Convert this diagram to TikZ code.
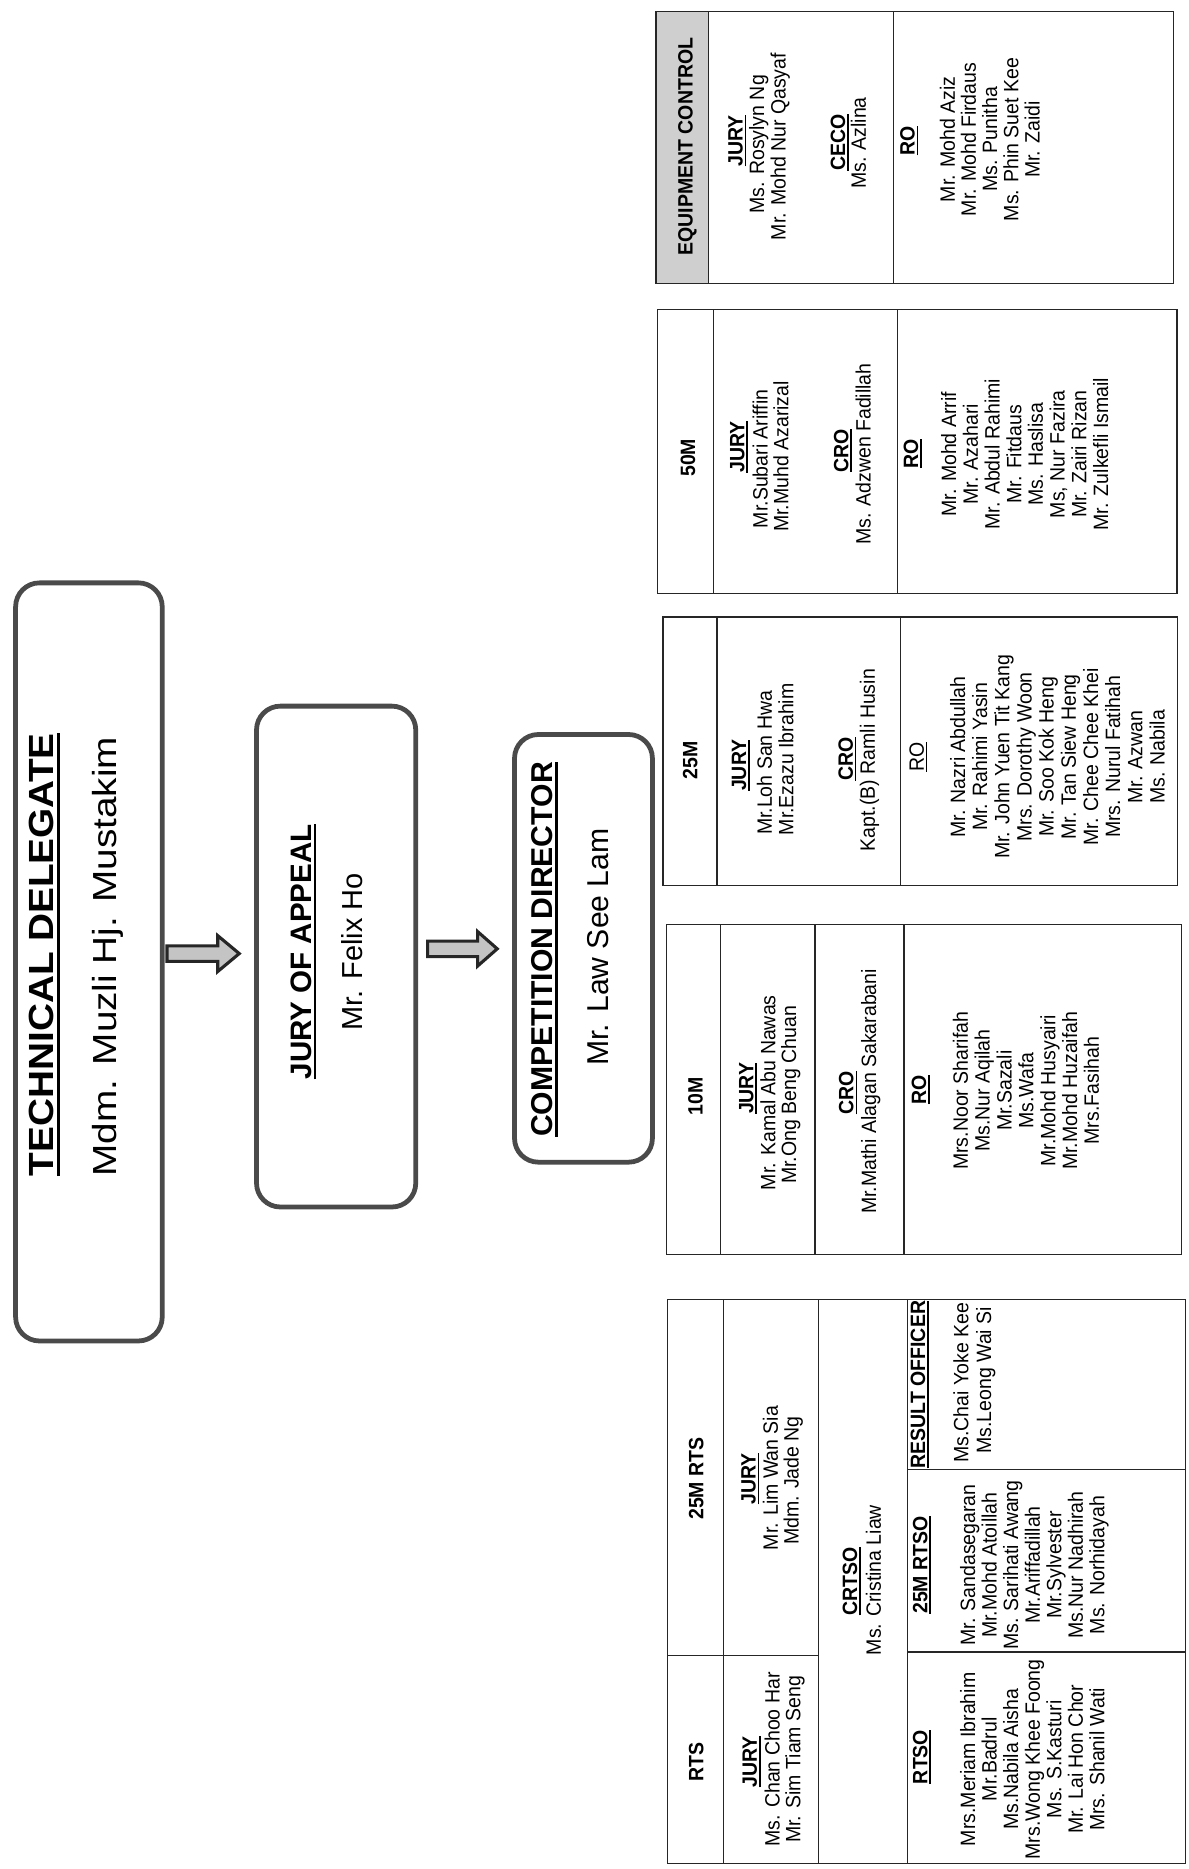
\documentclass[tikz,border=0pt]{standalone}
\usepackage{fontspec}
\usepackage{graphicx}
\setmainfont{Liberation Sans}
\newfontfamily\tblfont[FakeStretch=0.94]{Liberation Sans}
\usetikzlibrary{calc}
\newcommand\nmfont{\tblfont\fontsize{17.4}{19}\selectfont}
\newcommand\ulx[1]{\vtop{\hbox{#1}\kern0.09em\hrule height 0.075em}}
\definecolor{boxline}{HTML}{4A4A4A}
\definecolor{hdrfill}{HTML}{CFCFCF}
\definecolor{arrfill}{HTML}{C4C4C4}
\begin{document}
\begin{tikzpicture}[x=1pt,y=-1pt,
  mainbox/.style={draw=boxline, line width=4pt, rounded corners=20pt, inner sep=0pt},
  blockarr/.style={draw=black!85, line width=2.6pt, fill=arrfill, line join=miter},
  tbl/.style={draw=black!85, line width=1.1pt},
  big/.style={rotate=90, anchor=base, inner sep=0pt},
  nm/.style={rotate=90, anchor=base, inner sep=0pt, font=\nmfont},
  lab/.style={nm, font=\nmfont\bfseries},
  hdr/.style={nm, font=\nmfont\bfseries}]
\fill[white] (0,0) rectangle (997,1568);
\useasboundingbox (0,0) rectangle (997,1568);

% ---------- main boxes ----------
\node[mainbox, minimum width=123pt, minimum height=636pt] (td) at (74.6,807) {};
\node[mainbox, minimum width=133.6pt, minimum height=420.2pt] (joa) at (282,802.5) {};
\node[mainbox, minimum width=115.7pt, minimum height=358.8pt] (cd) at (489.5,795.6) {};

\node[big, font=\fontsize{29.3}{33}\selectfont\bfseries] (tdt) at (45,801) {\scalebox{1.11}[1]{\ulx{TECHNICAL DELEGATE}}};
\node[big, font=\fontsize{28}{32}\selectfont] (tdn) at (98,802.5) {\scalebox{1.16}[1]{Mdm. Muzli Hj. Mustakim}};
\node[big, font=\fontsize{24.8}{28}\selectfont\bfseries] (joat) at (261,798.5) {\ulx{JURY OF APPEAL}};
\node[big, font=\fontsize{24.3}{28}\selectfont] (joan) at (304.5,798.5) {Mr. Felix Ho};
\node[big, font=\fontsize{25.3}{28}\selectfont\bfseries] (cdt) at (463.5,796.6) {\ulx{COMPETITION DIRECTOR}};
\node[big, font=\fontsize{25.3}{28}\selectfont] (cdn) at (510.5,794.5) {Mr. Law See Lam};

% ---------- block arrows ----------
\draw[blockarr] let \p1=(td.east |- 0,800), \p2=(joa.west) in
  (\x1+2,\y1+6.5) -- (\x2-30.5,\y1+6.5) -- (\x2-30.5,\y1+15) -- (\x2-12.5,\y1)
  -- (\x2-30.5,\y1-15) -- (\x2-30.5,\y1-6.5) -- (\x1+2,\y1-6.5) -- cycle;
\draw[blockarr] let \p1=(joa.east |- 0,796), \p2=(cd.west) in
  (\x1+8,\y1+6.5) -- (\x2-29,\y1+6.5) -- (\x2-29,\y1+14.5) -- (\x2-12.5,\y1)
  -- (\x2-29,\y1-14.5) -- (\x2-29,\y1-6.5) -- (\x1+8,\y1-6.5) -- cycle;

% ---------- EQUIPMENT CONTROL ----------
\fill[hdrfill] (550.3,9.6) rectangle (594.3,237.6);
\draw[tbl] (550.3,9.6) rectangle (984.4,237.6);
\draw[tbl] (594.3,9.6) -- (594.3,237.6) (749.8,9.6) -- (749.8,237.6);
\node[hdr] (ech) at (581,123) {EQUIPMENT CONTROL};
\node[lab] (ecj) at (623,118) {\ulx{JURY}};
\node[nm] (ecj1) at (641,121) {Ms. Rosylyn Ng};
\node[nm] (ecj2) at (659,123) {Mr. Mohd Nur Qasyaf};
\node[lab] (ecc) at (709,119.5) {\ulx{CECO}};
\node[nm] (ecc1) at (726.5,120) {Ms. Azlina};
\node[lab] (ecr) at (767.4,118) {\ulx{RO}};
\foreach \t [count=\i from 0] in {Mr. Mohd Aziz, Mr. Mohd Firdaus, Ms. Punitha, Ms. Phin Suet Kee, Mr. Zaidi}
  \node[nm] (ecr\i) at ({801+17.8*\i},117) {\t};

% ---------- 50M ----------
\draw[tbl] (551.8,259.4) rectangle (987.5,498);
\draw[tbl] (598.7,259.4) -- (598.7,498) (752.7,259.4) -- (752.7,498);
\node[hdr] (f0h) at (583.2,384) {50M};
\node[lab] (f0j) at (624.5,375) {\ulx{JURY}};
\node[nm] (f0j1) at (644,385) {Mr.Subari Ariffin};
\node[nm] (f0j2) at (661.5,383) {Mr.Muhd Azarizal};
\node[lab] (f0c) at (711.7,378) {\ulx{CRO}};
\node[nm] (f0c1) at (730.5,381) {Ms. Adzwen Fadillah};
\node[lab] (f0r) at (770.3,380.5) {\ulx{RO}};
\foreach \t [count=\i from 0] in {Mr. Mohd Arrif, Mr. Azahari, Mr. Abdul Rahimi, Mr. Fitdaus, Ms. Haslisa, {Ms, Nur Fazira}, Mr. Zairi Rizan, Mr. Zulkefli Ismail}
  \node[nm] (f0r\i) at ({802.2+18.2*\i},381) {\t};

% ---------- 25M ----------
\draw[tbl] (556.2,517.6) rectangle (988,743);
\draw[tbl] (601.6,517.6) -- (601.6,743) (755.6,517.6) -- (755.6,743);
\node[hdr] (t5h) at (585,637.7) {25M};
\node[lab] (t5j) at (626,642) {\ulx{JURY}};
\node[nm] (t5j1) at (647.5,640) {Mr.Loh San Hwa};
\node[nm] (t5j2) at (665.5,637) {Mr.Ezazu Ibrahim};
\node[lab] (t5c) at (715.5,636.7) {\ulx{CRO}};
\node[nm] (t5c1) at (734,637.7) {Kapt.(B) Ramli Husin};
\node[nm] (t5r) at (775,635) {\ulx{RO}};
\foreach \t [count=\i from 0] in {Mr. Nazri Abdullah, Mr. Rahimi Yasin, Mr. John Yuen Tit Kang, Mrs. Dorothy Woon, Mr. Soo Kok Heng, Mr. Tan Siew Heng, Mr. Chee Chee Khei, Mrs. Nurul Fatihah, Mr. Azwan, Ms. Nabila}
  \node[nm] (t5r\i) at ({809.6+18.6*\i},635) {\t};

% ---------- 10M ----------
\draw[tbl] (559.1,775.5) rectangle (991,1052.7);
\draw[tbl] (604.6,775.5) -- (604.6,1052.7) (683.8,775.5) -- (683.8,1052.7) (758.5,775.5) -- (758.5,1052.7);
\node[hdr] (t0h) at (589.5,920) {10M};
\node[lab] (t0j) at (632,913) {\ulx{JURY}};
\node[nm] (t0j1) at (650.5,916.7) {Mr. Kamal Abu Nawas};
\node[nm] (t0j2) at (668,918.5) {Mr.Ong Beng Chuan};
\node[lab] (t0c) at (716,916.7) {\ulx{CRO}};
\node[nm] (t0c1) at (735,915.7) {Mr.Mathi Alagan Sakarabani};
\node[lab] (t0r) at (777,914) {\ulx{RO}};
\foreach \t [count=\i from 0] in {Mrs.Noor Sharifah, Ms.Nur Aqilah, Mr.Sazali, Ms.Wafa, Mr.Mohd Husyairi, Mr.Mohd Huzaifah, Mrs.Fasihah}
  \node[nm] (t0r\i) at ({812+18.33*\i},915) {\t};

% ---------- RTS / 25M RTS ----------
\draw[tbl] (560,1090.4) rectangle (994.7,1563.6);
\draw[tbl] (606.9,1090.4) -- (606.9,1563.6) (686.7,1090.4) -- (686.7,1563.6) (761.5,1090.4) -- (761.5,1563.6);
\draw[tbl] (560,1388.6) -- (686.7,1388.6);
\draw[tbl] (761.5,1232.9) -- (994.7,1232.9) (761.5,1386) -- (994.7,1386);
\node[hdr] (r2h) at (590,1240.5) {25M RTS};
\node[hdr] (r1h) at (590,1478) {RTS};
\node[lab] (r2j) at (634,1240.5) {\ulx{JURY}};
\node[nm] (r2j1) at (652.5,1240) {Mr. Lim Wan Sia};
\node[nm] (r2j2) at (670,1242) {Mdm. Jade Ng};
\node[lab] (r1j) at (635,1478) {\ulx{JURY}};
\node[nm] (r1j1) at (654,1476) {Ms. Chan Choo Har};
\node[nm] (r1j2) at (671.5,1476) {Mr. Sim Tiam Seng};
\node[lab] (crt) at (719,1326.6) {\ulx{CRTSO}};
\node[nm] (crt1) at (739,1325.6) {Ms. Cristina Liaw};
\node[lab] (res) at (776.2,1161.6) {\ulx{RESULT OFFICER}};
\node[nm] (res1) at (812.4,1160) {Ms.Chai Yoke Kee};
\node[nm] (res2) at (831.5,1158) {Ms.Leong Wai Si};
\node[lab] (r2s) at (778,1313) {\ulx{25M RTSO}};
\foreach \t [count=\i from 0] in {Mr. Sandasegaran, Mr.Mohd Atoillah, Ms. Sarihati Awang, Mr.Ariffadillah, Mr.Sylvester, Ms.Nur Nadhirah, Ms. Norhidayah}
  \node[nm] (r2s\i) at ({818+18.1*\i},1313) {\t};
\node[lab] (r1s) at (778,1474) {\ulx{RTSO}};
\foreach \t [count=\i from 0] in {Mrs.Meriam Ibrahim, Mr.Badrul, Ms.Nabila Aisha, Mrs.Wong Khee Foong, Ms. S.Kasturi, Mr. Lai Hon Chor, Mrs. Shanil Wati}
  \node[nm] (r1s\i) at ({818+18.1*\i},1476) {\t};
\end{tikzpicture}
\end{document}
